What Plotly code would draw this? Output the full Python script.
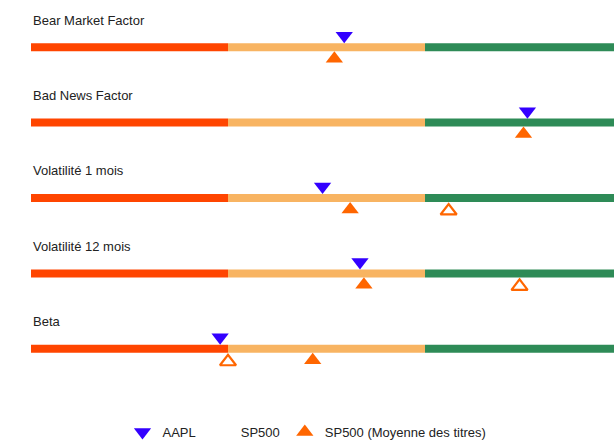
import plotly.graph_objects as go

factors = ["Bear Market Factor", "Bad News Factor", "Volatilité 1 mois", "Volatilité 12 mois", "Beta"]
aapl = [1.59, 2.52, 1.48, 1.67, 0.96]
sp500 = [None, None, 2.12, 2.48, 1.00]
sp500_avg = [1.54, 2.50, 1.62, 1.69, 1.43]
zone_starts = [0, 1, 2]
zone_widths = [1, 1, 1]
zone_colors = ["#FF4500", "#F8B462", "#2E8B57"]

pos = list(range(len(factors)))
fig = go.Figure()

for start, width, color in zip(zone_starts, zone_widths, zone_colors):
    fig.add_trace(go.Bar(
        y=pos, x=[width] * len(pos), base=[start] * len(pos), orientation="h",
        width=0.106, marker=dict(color=color, line=dict(width=0)),
        showlegend=False, hoverinfo="skip"))

up_off = 0.152
down_off = -0.152

fig.add_trace(go.Scatter(
    x=aapl, y=[p + down_off for p in pos], mode="markers", name="AAPL",
    marker=dict(symbol="triangle-down", size=15, color="#3300FF")))
fig.add_trace(go.Scatter(
    x=[None], y=[None], mode="markers", name="SP500",
    marker=dict(symbol="triangle-up-open", size=14, color="rgba(0,0,0,0)")))
fig.add_trace(go.Scatter(
    x=sp500_avg, y=[p + up_off for p in pos], mode="markers", name="SP500 (Moyenne des titres)",
    marker=dict(symbol="triangle-up", size=15, color="#FF6600")))
fig.add_trace(go.Scatter(
    x=sp500, y=[p + up_off + 0.02 for p in pos], mode="markers", name="SP500", showlegend=False,
    marker=dict(symbol="triangle-up-open", size=14, color="#FF6600", line=dict(width=2.2, color="#FF6600"))))

for p, name in zip(pos, factors):
    fig.add_annotation(x=0, y=p - 0.36, text=name, showarrow=False, xanchor="left",
                       yanchor="middle", font=dict(size=13, color="#222222"))

# figure is a little taller than the 441px window so the legend box stays
# inside the plot area (no automargin); the extra strip is hidden by the window
fig.update_layout(
    width=614, height=460, barmode="overlay",
    margin=dict(l=0, r=0, t=0, b=0),
    paper_bgcolor="white", plot_bgcolor="white",
    font=dict(family="Liberation Sans, Arial, sans-serif", size=13, color="#222222"),
    xaxis=dict(range=[-31 / 197, 583 / 197], visible=False, fixedrange=True),
    yaxis=dict(range=[5.475, -0.626], visible=False, fixedrange=True),
    legend=dict(orientation="h", x=0.5, xanchor="center", y=0.0609, yanchor="middle",
                bgcolor="rgba(0,0,0,0)", font=dict(size=13), traceorder="normal"),
)

fig.write_html("out.html", config={"displayModeBar": False, "staticPlot": True},
               post_script="document.body.style.margin='0';document.body.style.overflow='hidden';")
